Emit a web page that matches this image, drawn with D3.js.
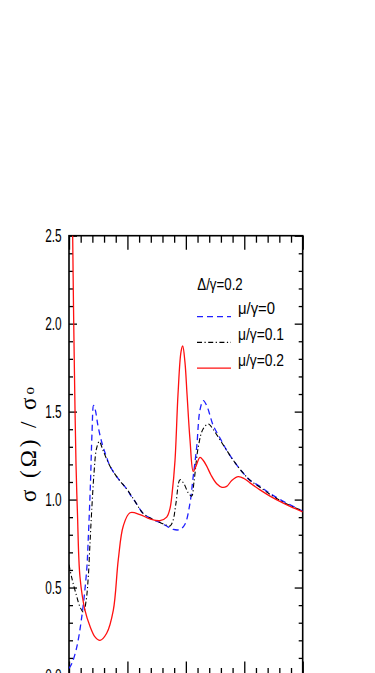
<!DOCTYPE html>
<html>
<head>
<meta charset="utf-8">
<script src="https://cdn.jsdelivr.net/npm/d3@7"></script>
<style>
  html, body { margin: 0; padding: 0; background: #fff; }
  svg { display: block; }
</style>
</head>
<body>
<svg id="chart" width="375" height="673"></svg>
<script>
// ---- Data ----
const xDomain = [0, 4];
const yDomain = [0, 2.5];
const xMajorTicks = [0, 1, 2, 3, 4];
const yMajorTicks = [0, 0.5, 1.0, 1.5, 2.0, 2.5];
const yTickLabels = ["0.0", "0.5", "1.0", "1.5", "2.0", "2.5"];
const legendTitle = "Δ/γ=0.2";
const seriesNames = ["μ/γ=0", "μ/γ=0.1", "μ/γ=0.2"];

const seriesMu0 = [
  [0, 0.04], [0.051, 0.07], [0.132, 0.16], [0.217, 0.33], [0.303, 0.6], [0.330, 0.78],
  [0.368, 1.1], [0.394, 1.38], [0.421, 1.535], [0.45, 1.51], [0.496, 1.42], [0.565, 1.32],
  [0.634, 1.25], [0.702, 1.19], [0.839, 1.12], [0.988, 1.06], [1.044, 1.03], [1.130, 0.99],
  [1.272, 0.92], [1.421, 0.89], [1.557, 0.87], [1.694, 0.845], [1.785, 0.83], [1.900, 0.83],
  [1.985, 0.86], [2.071, 0.98], [2.122, 1.12], [2.186, 1.30], [2.242, 1.51], [2.299, 1.563],
  [2.362, 1.53], [2.470, 1.42], [2.584, 1.35], [2.699, 1.28], [2.841, 1.21], [2.983, 1.15],
  [3.098, 1.11], [3.269, 1.075], [3.440, 1.035], [3.668, 0.99], [4.0, 0.935]
];
const seriesMu01 = [
  [0, 0.63], [0.051, 0.55], [0.132, 0.45], [0.188, 0.39], [0.248, 0.36], [0.291, 0.42],
  [0.330, 0.56], [0.359, 0.75], [0.389, 0.94], [0.428, 1.15], [0.471, 1.29], [0.519, 1.33],
  [0.582, 1.28], [0.702, 1.19], [0.839, 1.12], [0.988, 1.06], [1.130, 0.99], [1.272, 0.92],
  [1.421, 0.89], [1.557, 0.87], [1.660, 0.855], [1.729, 0.85], [1.780, 0.88], [1.831, 0.98],
  [1.900, 1.113], [1.968, 1.09], [2.037, 1.04], [2.100, 1.02], [2.139, 1.10], [2.213, 1.30],
  [2.293, 1.40], [2.384, 1.43], [2.465, 1.40], [2.584, 1.34], [2.699, 1.28], [2.841, 1.21],
  [2.983, 1.15], [3.098, 1.11], [3.269, 1.07], [3.440, 1.03], [3.668, 0.985], [4.0, 0.935]
];
const seriesMu02 = [
  [0.043, 3.0], [0.055, 2.75], [0.063, 2.5], [0.077, 2.1], [0.091, 1.77], [0.120, 1.2],
  [0.145, 0.92], [0.188, 0.56], [0.274, 0.37], [0.359, 0.28], [0.445, 0.22], [0.531, 0.20],
  [0.645, 0.24], [0.758, 0.37], [0.844, 0.66], [0.929, 0.85], [1.044, 0.925], [1.215, 0.915],
  [1.386, 0.89], [1.557, 0.88], [1.672, 0.90], [1.729, 0.95], [1.763, 1.03], [1.814, 1.22],
  [1.866, 1.60], [1.917, 1.84], [1.946, 1.873], [1.985, 1.78], [2.020, 1.60], [2.071, 1.34],
  [2.127, 1.16], [2.174, 1.19], [2.242, 1.24], [2.293, 1.225], [2.357, 1.19], [2.430, 1.14],
  [2.528, 1.09], [2.619, 1.07], [2.699, 1.075], [2.790, 1.11], [2.898, 1.13], [2.995, 1.12],
  [3.098, 1.095], [3.269, 1.055], [3.440, 1.02], [3.668, 0.98], [4.0, 0.93]
];

// ---- Layout ----
const svg = d3.select("#chart");
const pLeft = 69, pRight = 302.7, pTop = 235.7, pBottom = 675.5;

const x = d3.scaleLinear().domain(xDomain).range([pLeft, pRight]);
const y = d3.scaleLinear().domain(yDomain).range([pBottom, pTop]);

const xMinor = d3.range(0, 4.0001, 0.2).filter(v => !xMajorTicks.some(m => Math.abs(m - v) < 1e-6));
const yMinor = d3.range(0, 2.5001, 0.1).filter(v => !yMajorTicks.some(m => Math.abs(m - v) < 1e-6));

function styleAxis(g) {
  g.select(".domain").remove();
  g.selectAll("line").attr("stroke", "#000").attr("stroke-width", 1.3);
  g.selectAll("text").remove();
}

// x axes (top & bottom), ticks inward
svg.append("g").attr("transform", `translate(0,${pTop})`)
  .call(d3.axisTop(x).tickValues(xMajorTicks).tickSize(-14)).call(styleAxis);
svg.append("g").attr("transform", `translate(0,${pTop})`)
  .call(d3.axisTop(x).tickValues(xMinor).tickSize(-7)).call(styleAxis);
svg.append("g").attr("transform", `translate(0,${pBottom})`)
  .call(d3.axisBottom(x).tickValues(xMajorTicks).tickSize(-14)).call(styleAxis);
svg.append("g").attr("transform", `translate(0,${pBottom})`)
  .call(d3.axisBottom(x).tickValues(xMinor).tickSize(-7.5)).call(styleAxis);

// y axes (left & right), ticks inward
svg.append("g").attr("transform", `translate(${pLeft},0)`)
  .call(d3.axisLeft(y).tickValues(yMajorTicks).tickSize(-8)).call(styleAxis);
svg.append("g").attr("transform", `translate(${pLeft},0)`)
  .call(d3.axisLeft(y).tickValues(yMinor).tickSize(-4)).call(styleAxis);
svg.append("g").attr("transform", `translate(${pRight},0)`)
  .call(d3.axisRight(y).tickValues(yMajorTicks).tickSize(-8)).call(styleAxis);
svg.append("g").attr("transform", `translate(${pRight},0)`)
  .call(d3.axisRight(y).tickValues(yMinor).tickSize(-4)).call(styleAxis);

// frame
svg.append("rect")
  .attr("x", pLeft).attr("y", pTop)
  .attr("width", pRight - pLeft).attr("height", pBottom - pTop)
  .attr("fill", "none").attr("stroke", "#000").attr("stroke-width", 1.6);

// y tick labels (condensed look)
svg.append("g").selectAll("text")
  .data(yMajorTicks)
  .join("text")
  .attr("x", 45.2)
  .attr("y", d => y(d) + 6.5)
  .attr("textLength", 16.5)
  .attr("lengthAdjust", "spacingAndGlyphs")
  .attr("font-family", "Liberation Sans, Arial, sans-serif")
  .attr("font-size", 18)
  .attr("fill", "#000")
  .text((d, i) => yTickLabels[i]);

// y axis title
const title = svg.append("text")
  .attr("transform", "translate(36,444.5) rotate(-90)")
  .attr("text-anchor", "middle")
  .attr("font-family", "Liberation Serif, Times New Roman, serif")
  .attr("font-size", 23)
  .attr("fill", "#000")
  .attr("textLength", 115)
  .attr("lengthAdjust", "spacing");
title.append("tspan").text("σ (Ω) / σ");
title.append("tspan").attr("font-size", 15).attr("dy", -2).text("o");

// clip
svg.append("clipPath").attr("id", "plotClip")
  .append("rect").attr("x", pLeft).attr("y", pTop)
  .attr("width", pRight - pLeft).attr("height", pBottom - pTop);

const line = d3.line()
  .x(d => x(d[0])).y(d => y(d[1]))
  .curve(d3.curveCatmullRom.alpha(0.5));

const styles = [
  { data: seriesMu0, color: "#1f1fff", dash: "6,4", width: 1.3 },
  { data: seriesMu01, color: "#000", dash: "5,2.5,1.2,2.5", width: 1.1 },
  { data: seriesMu02, color: "#ff1010", dash: null, width: 1.3 }
];

const plot = svg.append("g").attr("clip-path", "url(#plotClip)");
styles.forEach(s => {
  plot.append("path")
    .datum(s.data)
    .attr("d", line)
    .attr("fill", "none")
    .attr("stroke", s.color)
    .attr("stroke-width", s.width)
    .attr("stroke-dasharray", s.dash);
});

// legend
const legend = svg.append("g")
  .attr("font-family", "Liberation Sans, Arial, sans-serif")
  .attr("font-size", 17).attr("fill", "#000");
legend.append("text")
  .attr("x", 197.3).attr("y", 290)
  .attr("textLength", 45.4).attr("lengthAdjust", "spacingAndGlyphs")
  .text(legendTitle);

const rowY = [316.7, 342.4, 368.1];
const textLens = [37, 46, 46];
styles.forEach((s, i) => {
  legend.append("line")
    .attr("x1", 197).attr("x2", 231)
    .attr("y1", rowY[i]).attr("y2", rowY[i])
    .attr("stroke", s.color).attr("stroke-width", s.width)
    .attr("stroke-dasharray", s.dash);
  legend.append("text")
    .attr("x", 238).attr("y", rowY[i] - 2.5)
    .attr("textLength", textLens[i]).attr("lengthAdjust", "spacingAndGlyphs")
    .text(seriesNames[i]);
});
</script>
</body>
</html>
